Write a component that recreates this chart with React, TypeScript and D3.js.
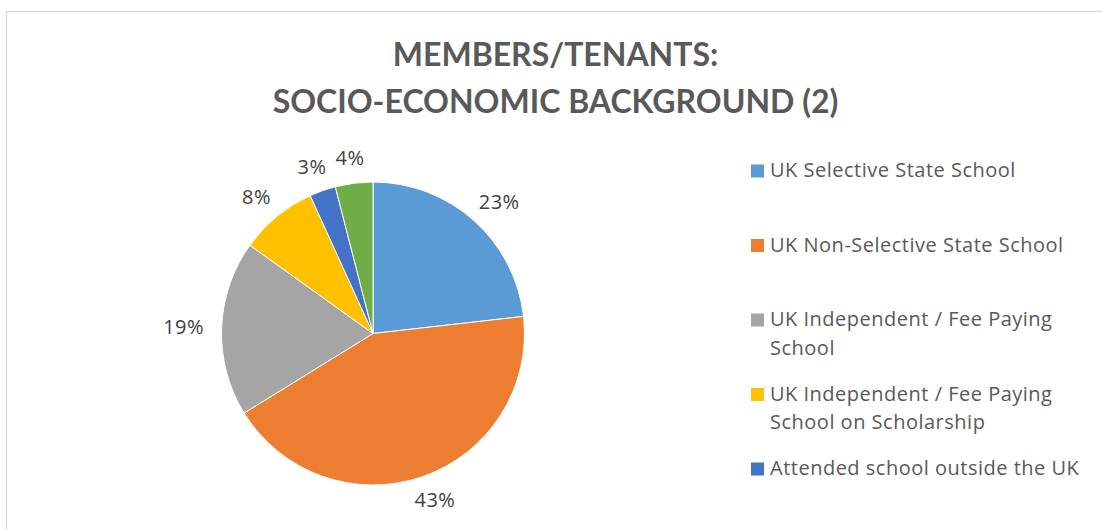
import React from 'react';
import * as d3 from 'd3';

// values (labels show rounded %)
const categories = [
  'UK Selective State School',
  'UK Non-Selective State School',
  'UK Independent / Fee Paying School',
  'UK Independent / Fee Paying School on Scholarship',
  'Attended school outside the UK',
  'Other',
];
const shares = [23.2, 43.0, 18.7, 8.3, 2.8, 4.0];
const colors = ['#5B9BD5', '#ED7D31', '#A5A5A5', '#FFC000', '#4472C4', '#70AD47'];
// legend lines as wrapped in the original (last item is cut off there)
const legendLines = [
  ['UK Selective State School'],
  ['UK Non-Selective State School'],
  ['UK Independent / Fee Paying', 'School'],
  ['UK Independent / Fee Paying', 'School on Scholarship'],
  ['Attended school outside the UK'],
];
const titleLines = ['MEMBERS/TENANTS:', 'SOCIO-ECONOMIC BACKGROUND (2)'];

const W = 1102;
const H = 530;
const TITLE_FONT = 'Lato, "Open Sans", sans-serif';
const FONT = '"Open Sans", Lato, sans-serif';

export default function App() {
  const cx = 373;
  const cy = 333.5;
  const r = 151.5;

  const data = categories.map((c, i) => ({ name: c, value: shares[i], color: colors[i] }));
  const pie = d3.pie<any>().sort(null).value(d => d.value);
  const arcs = pie(data);
  const arc = d3.arc<any>().innerRadius(0).outerRadius(r);

  const legendY = d3.scaleLinear().domain([0, 1]).range([177, 251.5]);

  return (
    <svg width={W} height={H} style={{ position: 'absolute', left: 0, top: 0, background: '#fff' }}>
      <rect x={6.5} y={11.5} width={W + 20} height={H + 20} fill="#fff" stroke="#d9d9d9" strokeWidth={1.3} />

      {titleLines.map((t, i) => (
        <text key={i} x={555.5} y={66 + i * 47} textAnchor="middle" fill="#595959"
          fontFamily={TITLE_FONT} fontWeight="bold" fontSize={32}>{t}</text>
      ))}

      <g transform={`translate(${cx},${cy})`}>
        {arcs.map((a, i) => (
          <path key={i} d={arc(a) as string} fill={a.data.color} stroke="#fff" strokeWidth={1} />
        ))}
        {arcs.map((a, i) => {
          const mid = (a.startAngle + a.endAngle) / 2;
          const s = Math.sin(mid);
          const c = -Math.cos(mid);
          const pr = r + 16;
          const w = String(Math.round(a.data.value)).length * 12 + 20;
          const h = 18;
          const x = pr * s + s * w / 2;
          const y = pr * c + c * h / 2;
          return (
            <text key={i} x={x} y={y} dy="0.35em" textAnchor="middle" fill="#404040"
              fontFamily={FONT} fontSize={20} letterSpacing={0.5}>{Math.round(a.data.value)}%</text>
          );
        })}
      </g>

      {legendLines.map((lines, i) => {
        const y0 = legendY(i);
        return (
          <g key={i}>
            <rect x={751} y={y0 - 12.5} width={13} height={13} fill={colors[i]} />
            {lines.map((l, j) => (
              <text key={j} x={770} y={y0 + j * 28.5} fill="#595959" fontFamily={FONT}
                fontSize={20} letterSpacing={0.5}>{l}</text>
            ))}
          </g>
        );
      })}
    </svg>
  );
}
